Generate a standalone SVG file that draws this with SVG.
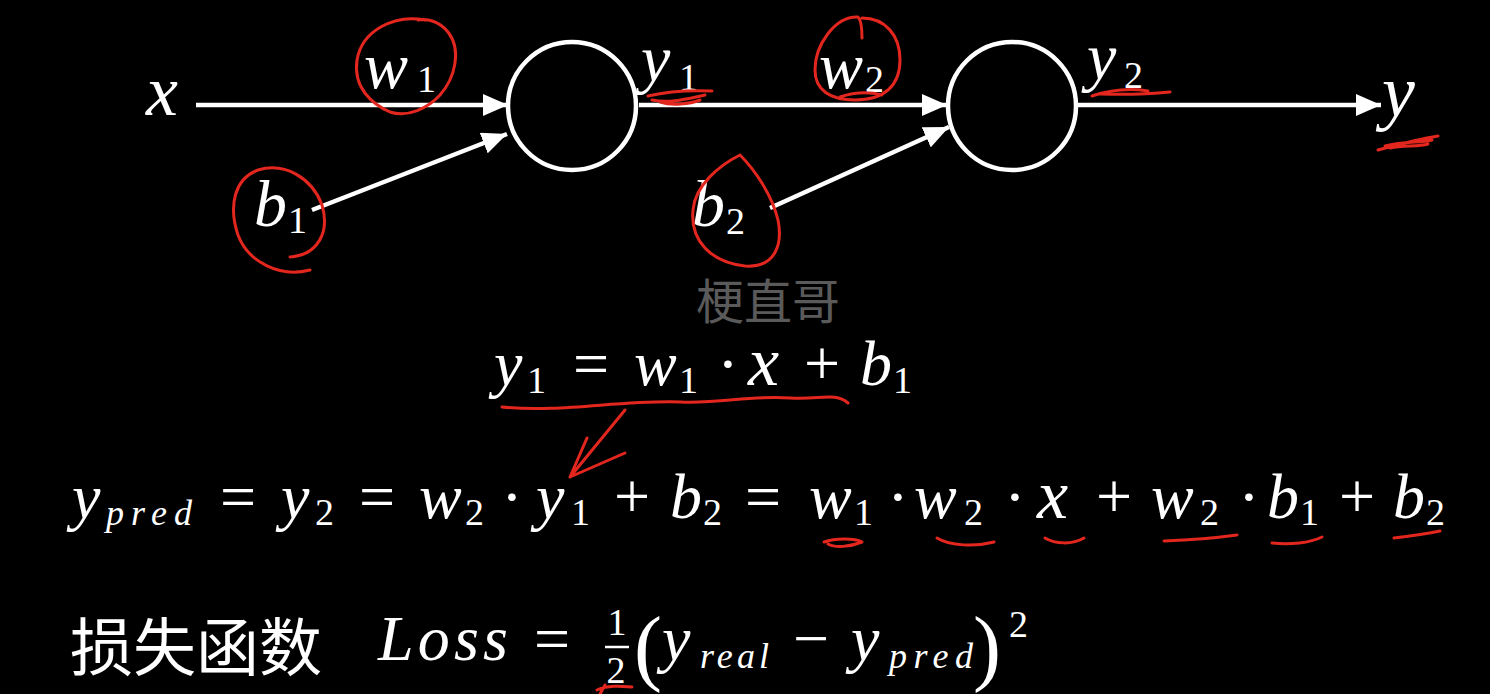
<svg xmlns="http://www.w3.org/2000/svg" width="1490" height="694" viewBox="0 0 1490 694">
<defs>
<marker id="ah" markerUnits="userSpaceOnUse" markerWidth="26" markerHeight="22" refX="25" refY="11" orient="auto">
<path d="M0,0 L25,11 L0,22 Z" fill="#fff"/>
</marker>
</defs>
<rect width="1490" height="694" fill="#000"/>

<g id="connectors" stroke="#fff" stroke-width="4.5" fill="none" marker-end="url(#ah)">
<line x1="196" y1="105" x2="508" y2="105"/>
<line x1="312" y1="210" x2="507" y2="134"/>
<line x1="639" y1="105" x2="947" y2="105"/>
<line x1="770" y1="208" x2="949" y2="127"/>
<line x1="1078" y1="105" x2="1381" y2="105"/>
</g>

<g stroke="#fff" stroke-width="4.5" fill="none">
<g id="neuron1"><circle cx="572" cy="106" r="64"/></g>
<g id="neuron2"><circle cx="1012" cy="106" r="64"/></g>
</g>

<g fill="#fff">
<g id="input-x"><text x="146" y="115" font-size="72" font-family="Liberation Serif" font-style="italic">x</text></g>
<g id="weight-w1"><text x="364" y="88" font-size="66" font-family="Liberation Serif" font-style="italic">w</text><text x="417" y="92" font-size="38" font-family="Liberation Serif">1</text></g>
<g id="bias-b1"><text x="254" y="226" font-size="66" font-family="Liberation Serif" font-style="italic">b</text><text x="288" y="233" font-size="38" font-family="Liberation Serif">1</text></g>
<g id="out-y1"><text x="641" y="81" font-size="66" font-family="Liberation Serif" font-style="italic">y</text><text x="679" y="90" font-size="38" font-family="Liberation Serif">1</text></g>
<g id="weight-w2"><text x="819" y="88" font-size="66" font-family="Liberation Serif" font-style="italic">w</text><text x="865" y="92" font-size="38" font-family="Liberation Serif">2</text></g>
<g id="bias-b2"><text x="692" y="226" font-size="66" font-family="Liberation Serif" font-style="italic">b</text><text x="726" y="234" font-size="38" font-family="Liberation Serif">2</text></g>
<g id="out-y2"><text x="1087" y="79" font-size="66" font-family="Liberation Serif" font-style="italic">y</text><text x="1124" y="88" font-size="38" font-family="Liberation Serif">2</text></g>
<g id="output-y"><text x="1382" y="116" font-size="74" font-family="Liberation Serif" font-style="italic">y</text></g>

<g id="eq1">
<text x="494" y="385" font-size="64" font-family="Liberation Serif" font-style="italic">y</text>
<text x="527" y="393" font-size="38" font-family="Liberation Serif">1</text>
<text x="591" y="385" font-size="64" font-family="Liberation Serif" text-anchor="middle">=</text>
<text x="634" y="385" font-size="64" font-family="Liberation Serif" font-style="italic">w</text>
<text x="679" y="393" font-size="38" font-family="Liberation Serif">1</text>
<text x="728" y="385" font-size="64" font-family="Liberation Serif" text-anchor="middle">·</text>
<text x="748" y="385" font-size="70" font-family="Liberation Serif" font-style="italic">x</text>
<text x="822" y="385" font-size="64" font-family="Liberation Serif" text-anchor="middle">+</text>
<text x="860" y="385" font-size="64" font-family="Liberation Serif" font-style="italic">b</text>
<text x="893" y="393" font-size="38" font-family="Liberation Serif">1</text>
</g>

<g id="eq2">
<text x="72" y="518" font-size="64" font-family="Liberation Serif" font-style="italic">y</text>
<text x="106" y="525" font-size="36" font-family="Liberation Serif" font-style="italic" textLength="86" lengthAdjust="spacing">pred</text>
<text x="238" y="518" font-size="64" font-family="Liberation Serif" text-anchor="middle">=</text>
<text x="281" y="518" font-size="64" font-family="Liberation Serif" font-style="italic">y</text>
<text x="315" y="525" font-size="38" font-family="Liberation Serif">2</text>
<text x="377" y="518" font-size="64" font-family="Liberation Serif" text-anchor="middle">=</text>
<text x="419" y="518" font-size="64" font-family="Liberation Serif" font-style="italic">w</text>
<text x="465" y="525" font-size="38" font-family="Liberation Serif">2</text>
<text x="512" y="518" font-size="64" font-family="Liberation Serif" text-anchor="middle">·</text>
<text x="536" y="518" font-size="64" font-family="Liberation Serif" font-style="italic">y</text>
<text x="571" y="525" font-size="38" font-family="Liberation Serif">1</text>
<text x="632" y="518" font-size="64" font-family="Liberation Serif" text-anchor="middle">+</text>
<text x="670" y="518" font-size="64" font-family="Liberation Serif" font-style="italic">b</text>
<text x="703" y="525" font-size="38" font-family="Liberation Serif">2</text>
<text x="763" y="518" font-size="64" font-family="Liberation Serif" text-anchor="middle">=</text>
<text x="809" y="518" font-size="64" font-family="Liberation Serif" font-style="italic">w</text>
<text x="854" y="525" font-size="38" font-family="Liberation Serif">1</text>
<text x="898" y="518" font-size="64" font-family="Liberation Serif" text-anchor="middle">·</text>
<text x="914" y="518" font-size="64" font-family="Liberation Serif" font-style="italic">w</text>
<text x="964" y="525" font-size="38" font-family="Liberation Serif">2</text>
<text x="1015" y="518" font-size="64" font-family="Liberation Serif" text-anchor="middle">·</text>
<text x="1037" y="518" font-size="70" font-family="Liberation Serif" font-style="italic">x</text>
<text x="1114" y="518" font-size="64" font-family="Liberation Serif" text-anchor="middle">+</text>
<text x="1151" y="518" font-size="64" font-family="Liberation Serif" font-style="italic">w</text>
<text x="1200" y="525" font-size="38" font-family="Liberation Serif">2</text>
<text x="1249" y="518" font-size="64" font-family="Liberation Serif" text-anchor="middle">·</text>
<text x="1267" y="518" font-size="64" font-family="Liberation Serif" font-style="italic">b</text>
<text x="1300" y="525" font-size="38" font-family="Liberation Serif">1</text>
<text x="1357" y="518" font-size="64" font-family="Liberation Serif" text-anchor="middle">+</text>
<text x="1393" y="518" font-size="64" font-family="Liberation Serif" font-style="italic">b</text>
<text x="1426" y="525" font-size="38" font-family="Liberation Serif">2</text>
</g>

<g id="eq3">
<text x="70" y="670" font-size="63" font-family="Noto Sans CJK SC">损失函数</text>
<text x="378" y="660" font-size="64" font-family="Liberation Serif" font-style="italic" textLength="130" lengthAdjust="spacing">Loss</text>
<text x="552" y="660" font-size="64" font-family="Liberation Serif" text-anchor="middle">=</text>
<text x="617" y="635" font-size="38" font-family="Liberation Serif" text-anchor="middle">1</text>
<line x1="605" y1="647" x2="629" y2="647" stroke="#fff" stroke-width="2.5"/>
<text x="616" y="683" font-size="38" font-family="Liberation Serif" text-anchor="middle">2</text>
<text x="634" y="675" font-size="84" font-family="Liberation Serif">(</text>
<text x="662" y="660" font-size="64" font-family="Liberation Serif" font-style="italic">y</text>
<text x="700" y="668" font-size="36" font-family="Liberation Serif" font-style="italic" textLength="69" lengthAdjust="spacing">real</text>
<text x="811" y="660" font-size="64" font-family="Liberation Serif" text-anchor="middle">−</text>
<text x="851" y="660" font-size="64" font-family="Liberation Serif" font-style="italic">y</text>
<text x="889" y="668" font-size="36" font-family="Liberation Serif" font-style="italic" textLength="84" lengthAdjust="spacing">pred</text>
<text x="973" y="675" font-size="84" font-family="Liberation Serif">)</text>
<text x="1009" y="637" font-size="38" font-family="Liberation Serif">2</text>
</g>
</g>

<g id="watermark"><text x="696" y="319" font-size="48" font-family="Noto Sans CJK SC" fill="#5a5a5a">梗直哥</text></g>

<g id="annotations" stroke="#e3261e" stroke-width="3" fill="none" stroke-linecap="round" stroke-linejoin="round">
<path d="M425,20 C395,14 362,30 357,60 C353,88 372,104 390,112 C408,118 428,108 440,95 C455,78 462,50 448,32 C440,22 428,18 418,20"/>
<path d="M648,96 C665,92 690,90 712,91 M652,100 C670,104 690,98 705,95 M660,102 C672,106 690,104 700,100"/>
<path d="M862,38 C862,28 861,20 858,17 C835,16 815,45 815,70 C815,90 830,100 855,100 C885,100 900,85 900,60 C900,35 885,18 862,18 M840,97 C855,92 870,92 882,95"/>
<path d="M1092,96 C1110,90 1130,88 1148,91 M1100,94 C1130,95 1150,94 1170,92"/>
<path d="M1378,150 C1400,144 1425,138 1438,136 M1385,146 C1405,141 1420,143 1432,140 M1390,148 C1405,145 1418,147 1428,144"/>
<path d="M310,270 C280,278 248,262 238,235 C228,205 235,178 258,170 C285,162 312,178 322,205 C330,232 318,255 290,257"/>
<path d="M740,155 C720,165 695,185 693,210 C690,240 710,262 745,266 C775,268 783,245 778,220 C772,195 755,170 740,155"/>
<path d="M502,407 C560,413 620,400 680,402 C720,404 750,395 790,398 C820,400 835,392 848,403"/>
<path d="M625,410 L570,477 M587,438 L570,477 L625,453"/>
<path d="M824,542 C835,538 855,538 862,542 C850,547 835,548 828,544"/>
<path d="M937,538 C950,546 975,547 994,542"/>
<path d="M1045,538 C1055,544 1072,545 1084,538"/>
<path d="M1164,541 C1190,540 1215,538 1237,535"/>
<path d="M1272,543 C1290,545 1310,543 1322,537"/>
<path d="M1394,538 C1410,536 1425,534 1440,531"/>
<path d="M597,690 C608,685 620,686 632,687 M605,685 L600,694"/>
</g>
</svg>
